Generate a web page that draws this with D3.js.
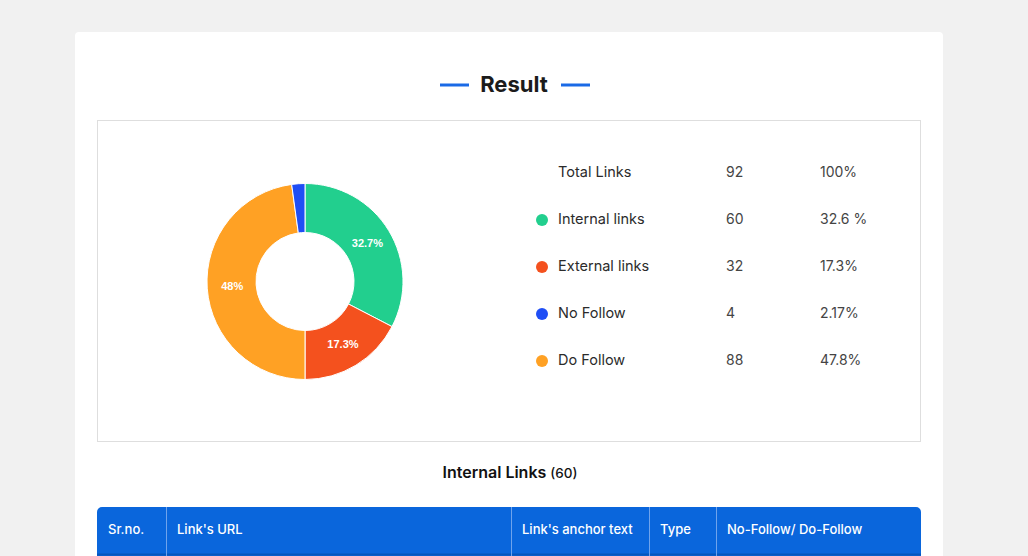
<!DOCTYPE html>
<html>
<head>
<meta charset="utf-8">
<script src="https://cdn.jsdelivr.net/npm/d3@7"></script>
<style>
  body { margin: 0; background: #f1f1f1; font-family: "Inter", "Lato", sans-serif; }
  svg { display: block; }
</style>
</head>
<body>
<div id="chart"></div>
<script>
// pie order (as drawn, clockwise from top)
const sliceNames = ["Internal links", "External links", "Do Follow", "No Follow"];
const sliceValues = [60, 32, 88, 4];
const sliceLabels = ["32.7%", "17.3%", "48%", ""];
const sliceColors = ["#22cf8e", "#f4511e", "#ffa124", "#1f4ef5"];

// summary table
const rowNames = ["Total Links", "Internal links", "External links", "No Follow", "Do Follow"];
const rowCounts = ["92", "60", "32", "4", "88"];
const rowPercents = ["100%", "32.6 %", "17.3%", "2.17%", "47.8%"];
const rowColors = [null, "#22cf8e", "#f4511e", "#1f4ef5", "#ffa124"];

const tableTitle = "Internal Links";
const tableCount = "(60)";
const headers = ["Sr.no.", "Link's URL", "Link's anchor text", "Type", "No-Follow/ Do-Follow"];
const headerEdges = [97, 166, 511, 649, 716, 921];

const W = 1028, H = 556;
const svg = d3.select("#chart").append("svg").attr("width", W).attr("height", H);

svg.append("rect").attr("width", W).attr("height", H).attr("fill", "#f1f1f1");

// card
svg.append("rect")
  .attr("x", 75).attr("y", 32).attr("width", 868).attr("height", 560)
  .attr("rx", 4).attr("fill", "#fff");

// title
svg.append("text")
  .attr("x", 514).attr("y", 92)
  .attr("text-anchor", "middle")
  .attr("font-size", 22).attr("font-weight", 700).attr("fill", "#1b1b1b")
  .text("Result");
[[440, 469], [561, 590]].forEach(([a, b]) => {
  svg.append("line").attr("x1", a).attr("x2", b).attr("y1", 85).attr("y2", 85)
    .attr("stroke", "#1a6ae6").attr("stroke-width", 3);
});

// inner box
svg.append("rect")
  .attr("x", 97.5).attr("y", 120.5).attr("width", 823).attr("height", 321)
  .attr("fill", "#fff").attr("stroke", "#dedede");

// donut
const pie = d3.pie().sort(null).value((d) => d)(sliceValues);
const arc = d3.arc().innerRadius(49).outerRadius(98);
const labelArc = d3.arc().innerRadius(73).outerRadius(73);
const g = svg.append("g").attr("transform", "translate(305, 281.5)");

g.selectAll("path")
  .data(pie)
  .enter()
  .append("path")
  .attr("d", arc)
  .attr("fill", (d, i) => sliceColors[i])
  .attr("stroke", "#fff")
  .attr("stroke-width", 1);

g.selectAll("text")
  .data(pie)
  .enter()
  .append("text")
  .attr("transform", (d) => "translate(" + labelArc.centroid(d) + ")")
  .attr("dy", "0.35em")
  .attr("text-anchor", "middle")
  .attr("font-size", 11).attr("font-weight", 700).attr("fill", "#fff")
  .attr("font-family", "Liberation Sans, Arial, sans-serif")
  .text((d, i) => sliceLabels[i]);

// summary rows
const rowY = d3.scalePoint().domain(rowNames).range([172, 360]);
const rows = svg.selectAll(".row")
  .data(rowNames)
  .enter()
  .append("g")
  .attr("class", "row")
  .attr("transform", (d) => `translate(0, ${rowY(d)})`);

rows.filter((d, i) => rowColors[i])
  .append("circle")
  .attr("cx", 542).attr("cy", 1).attr("r", 6)
  .attr("fill", (d) => rowColors[rowNames.indexOf(d)]);

rows.append("text").attr("x", 558).attr("dy", "0.35em")
  .attr("font-size", 14.5).attr("fill", "#2b2b2b").text((d) => d);
rows.append("text").attr("x", 726).attr("dy", "0.35em")
  .attr("font-size", 14).attr("fill", "#444").text((d, i) => rowCounts[i]);
rows.append("text").attr("x", 820).attr("dy", "0.35em")
  .attr("font-size", 14).attr("fill", "#444").text((d, i) => rowPercents[i]);

// table title
const tt = svg.append("text")
  .attr("x", 510).attr("y", 478)
  .attr("text-anchor", "middle")
  .attr("font-size", 16).attr("font-weight", 600).attr("fill", "#111");
tt.append("tspan").text(tableTitle + " ");
tt.append("tspan").attr("font-size", 13.5).attr("font-weight", 500).text(tableCount);

// table header
svg.append("path")
  .attr("d", "M97,556 V512 a5,5 0 0 1 5,-5 H916 a5,5 0 0 1 5,5 V556 Z")
  .attr("fill", "#0a66dc");
svg.append("line").attr("x1", 97).attr("x2", 921).attr("y1", 554.5).attr("y2", 554.5)
  .attr("stroke", "#0756bb").attr("stroke-width", 2);

headerEdges.slice(1, -1).forEach((x) => {
  svg.append("line").attr("x1", x + 0.5).attr("x2", x + 0.5).attr("y1", 507).attr("y2", 556)
    .attr("stroke", "#6fa3ec").attr("stroke-width", 1);
});

svg.selectAll(".hdr")
  .data(headers)
  .enter()
  .append("text")
  .attr("class", "hdr")
  .attr("x", (d, i) => headerEdges[i] + 11)
  .attr("y", 534)
  .attr("font-size", 13).attr("font-weight", 500).attr("fill", "#fff")
  .text((d) => d);
</script>
</body>
</html>
